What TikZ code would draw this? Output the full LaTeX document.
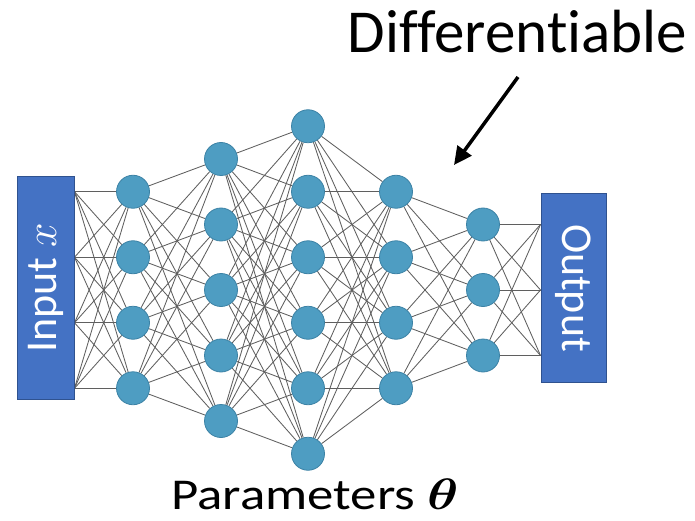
\RequirePackage{fix-cm}
\documentclass[tikz,border=0pt]{standalone}
\usepackage{amsmath,amssymb,bm}
\usepackage{fontspec}
\setmainfont{Carlito}[Ligatures=NoCommon]
\usetikzlibrary{positioning,arrows.meta,backgrounds}
\definecolor{unitblue}{RGB}{78,157,194}
\definecolor{unitedge}{RGB}{60,130,165}
\definecolor{boxblue}{RGB}{68,114,196}
\definecolor{boxedge}{RGB}{47,82,143}
\definecolor{wire}{RGB}{95,95,95}

\begin{document}
\begin{tikzpicture}[x=1pt,y=-1pt,
  un/.style={circle,draw=unitedge,line width=0.8pt,fill=unitblue,minimum size=33pt,inner sep=0pt},
  io/.style={draw=boxedge,line width=1pt,fill=boxblue,text=white,inner sep=0pt,font=\fontsize{44}{50}\selectfont},
  wr/.style={draw=wire,line width=0.85pt},
  ar/.style={-{Triangle[length=18pt,width=17pt]},line width=3.5pt},
  lb/.style={inner sep=0pt,anchor=base}]
  \useasboundingbox (0,0) rectangle (695,521);
  % units of the hidden layers
  \foreach \l/\x/\m in {1/133/4,2/221/5,3/308/6,4/396/4,5/483/3}
    \foreach \i in {1,...,\m}
      \node[un] (n\l-\i) at (\x,{290+65.5*(\i-(\m+1)/2)}) {};
  \node[io,minimum width=57pt,minimum height=222pt] (inp) at (45.5,288) {\rotatebox{90}{Input $x$}};
  \node[io,minimum width=65pt,minimum height=188pt] (out) at (573.5,288) {\rotatebox{-90}{Output}};
  \begin{scope}[on background layer]
    \foreach \i in {1,...,4}
      \foreach \j in {1,...,4}
        \draw[wr] (inp.east |- n1-\i) -- (n1-\j);
    \foreach \a/\b/\p/\q in {1/2/4/5,2/3/5/6,3/4/6/4,4/5/4/3}
      \foreach \i in {1,...,\p}
        \foreach \j in {1,...,\q}
          \draw[wr] (n\a-\i) -- (n\b-\j);
    \foreach \i in {1,...,3}
      \foreach \j in {1,...,3}
        \draw[wr] (n5-\i) -- (out.west |- n5-\j);
  \end{scope}
  \node[lb,font=\fontsize{61}{70}\selectfont] (diff) at (517.5,53) {Differentiable};
  \coordinate (dtail) at (518,77);
  \coordinate (dtip) at (454,165);
  \draw[ar] (dtail) -- (dtip);
  \node[lb,font=\fontsize{44}{50}\selectfont] (par) at (315,509) {\scalebox{1.2}[1]{Parameters $\boldsymbol{\theta}$}};
\end{tikzpicture}
\end{document}
